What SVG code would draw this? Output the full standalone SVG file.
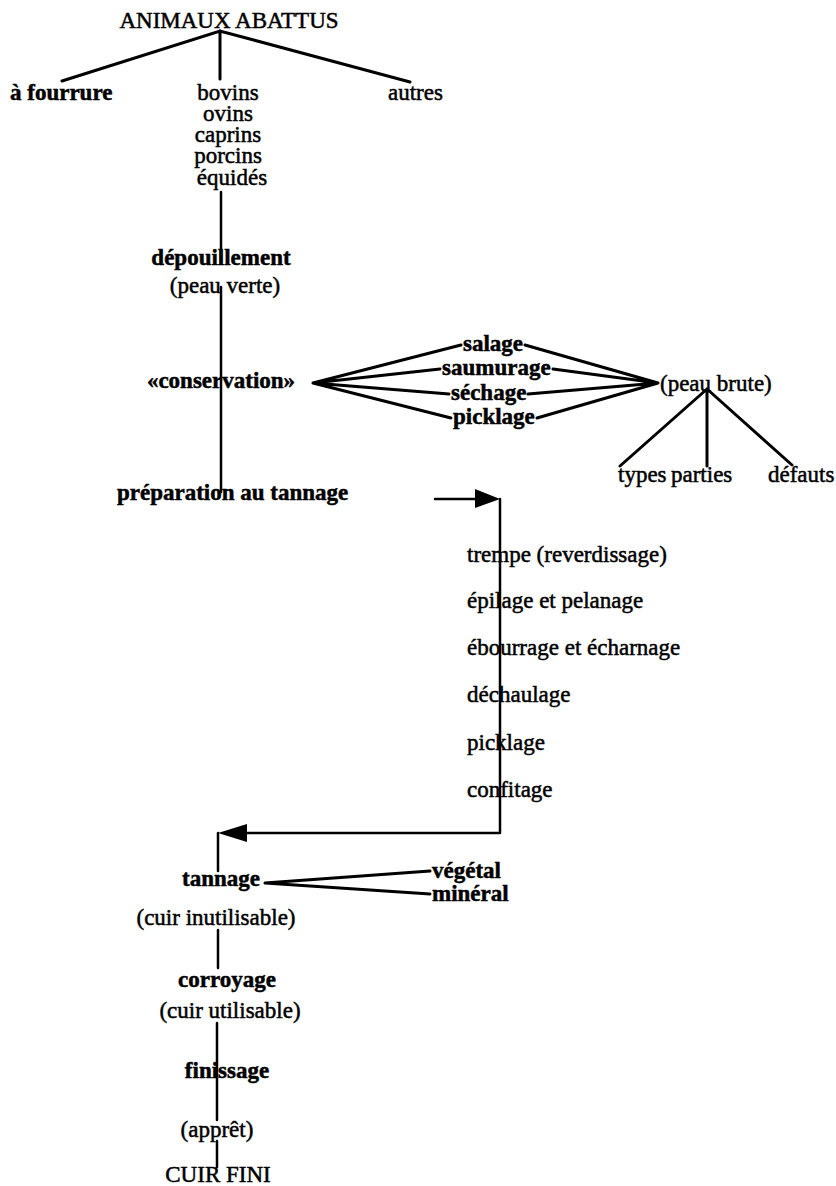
<svg xmlns="http://www.w3.org/2000/svg" width="836" height="1186" viewBox="0 0 836 1186">
<style>
.t{font-family:"Liberation Serif","Times New Roman",serif;font-size:23px;fill:#000;stroke:#000;stroke-width:0.5}
.b{font-weight:bold}
.m{text-anchor:middle}
.ln{stroke:#000;stroke-width:2.5;fill:none;stroke-linecap:round;stroke-linejoin:round}
.fan{stroke:#000;stroke-width:3;fill:none;stroke-linecap:round}
.ah{fill:#000;stroke:none}
</style>
<rect width="836" height="1186" fill="#fff"/>
<g id="connectors">
<path class="fan" d="M62,81 L220,31 L410,82 M220,31 V79"/>
<path class="ln" d="M221,192 V262 M221,287 V492"/>
<path class="fan" d="M313,383 L461,345 M313,383 L440,369 M313,383 L449,394 M313,383 L451,418"/>
<path class="fan" d="M525,345 L658,383 M553,369 L658,383 M528,394 L658,383 M537,418 L658,383"/>
<path class="fan" d="M707,389 L620,466 M707,389 V466 M707,389 L792,465"/>
<path class="ln" d="M435,499 H476"/>
<polygon class="ah" points="475,489 500,499 475,508"/>
<path class="ln" d="M500,499 V833 H246"/>
<polygon class="ah" points="247,824 218,833 247,842"/>
<path class="ln" d="M218,833 V871"/>
<path class="fan" d="M265,883 L430,871 M265,883 L430,894"/>
<path class="ln" d="M218,930 V968 M217,1023 V1120 M217,1141 V1167"/>
</g>
<g id="n-animaux"><text class="t m" x="229" y="28">ANIMAUX ABATTUS</text></g>
<g id="n-fourrure"><text class="t b" x="10" y="100">à fourrure</text></g>
<g id="n-especes">
<text class="t m" x="228" y="100">bovins<tspan x="228" dy="21">ovins</tspan><tspan x="228" dy="21">caprins</tspan><tspan x="228" dy="21">porcins</tspan><tspan x="232" dy="22">équidés</tspan></text>
</g>
<g id="n-autres"><text class="t" x="388" y="100">autres</text></g>
<g id="n-depouillement"><text class="t b m" x="221" y="265">dépouillement</text></g>
<g id="n-peauverte"><text class="t m" x="225" y="293">(peau verte)</text></g>
<g id="n-conservation"><text class="t b m" x="221" y="388">«conservation»</text></g>
<g id="n-salage"><text class="t b" x="463" y="351">salage</text></g>
<g id="n-saumurage"><text class="t b" x="442" y="375">saumurage</text></g>
<g id="n-sechage"><text class="t b" x="451" y="400">séchage</text></g>
<g id="n-picklage1"><text class="t b" x="453" y="424">picklage</text></g>
<g id="n-peaubrute"><text class="t" x="660" y="391">(peau brute)</text></g>
<g id="n-types"><text class="t" x="618" y="482">types</text></g>
<g id="n-parties"><text class="t" x="671" y="482">parties</text></g>
<g id="n-defauts"><text class="t" x="768" y="482">défauts</text></g>
<g id="n-preparation"><text class="t b" x="117" y="500">préparation au tannage</text></g>
<g id="n-trempe"><text class="t" x="467" y="562">trempe (reverdissage)</text></g>
<g id="n-epilage"><text class="t" x="467" y="608">épilage et pelanage</text></g>
<g id="n-ebourrage"><text class="t" x="467" y="655">ébourrage et écharnage</text></g>
<g id="n-dechaulage"><text class="t" x="467" y="702">déchaulage</text></g>
<g id="n-picklage2"><text class="t" x="467" y="750">picklage</text></g>
<g id="n-confitage"><text class="t" x="467" y="797">confitage</text></g>
<g id="n-tannage"><text class="t b m" x="221" y="886">tannage</text></g>
<g id="n-vegetal"><text class="t b" x="432" y="878">végétal</text></g>
<g id="n-mineral"><text class="t b" x="432" y="901">minéral</text></g>
<g id="n-inutilisable"><text class="t m" x="216" y="925">(cuir inutilisable)</text></g>
<g id="n-corroyage"><text class="t b m" x="227" y="987">corroyage</text></g>
<g id="n-utilisable"><text class="t m" x="230" y="1018">(cuir utilisable)</text></g>
<g id="n-finissage"><text class="t b m" x="227" y="1078">finissage</text></g>
<g id="n-appret"><text class="t m" x="217" y="1137">(apprêt)</text></g>
<g id="n-cuirfini"><text class="t m" x="218" y="1182">CUIR FINI</text></g>
</svg>
